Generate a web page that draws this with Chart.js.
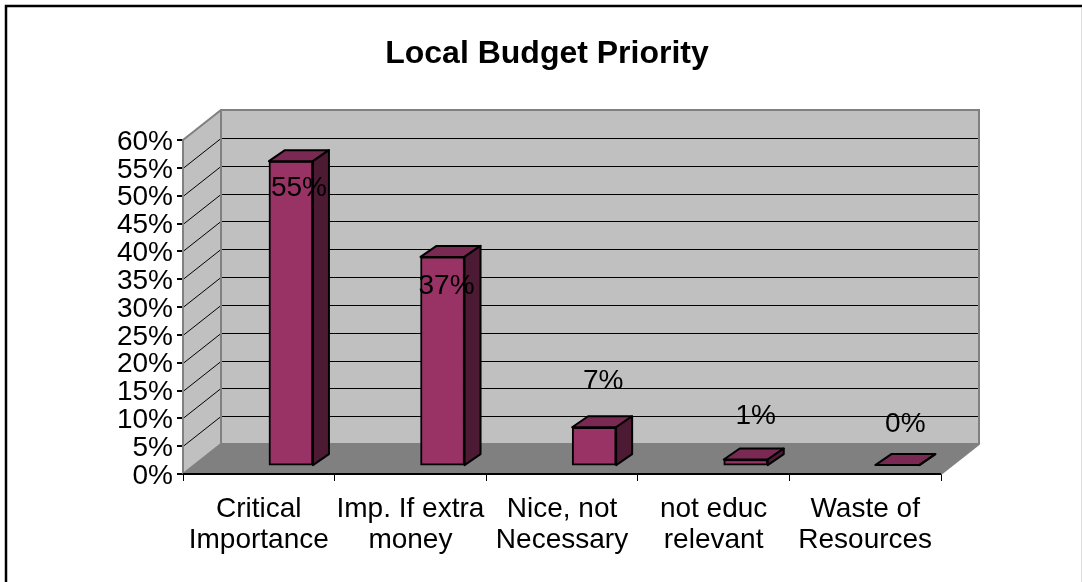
<!DOCTYPE html>
<html>
<head>
<meta charset="utf-8">
<style>
html, body { margin: 0; padding: 0; background: #fff; overflow: hidden; }
canvas { display: block; }
</style>
<script src="https://cdn.jsdelivr.net/npm/chart.js@4/dist/chart.umd.min.js"></script>
</head>
<body>
<canvas id="budget" width="1082" height="582"></canvas>
<script>
var chartTitle = "Local Budget Priority";
var categories = [
    ["Critical", "Importance"],
    ["Imp. If extra", "money"],
    ["Nice, not", "Necessary"],
    ["not educ", "relevant"],
    ["Waste of", "Resources"]
];
var positions = [0, 1, 2, 3, 4];
// bar heights, the labels round them
var budgetValues = [54.6, 37.4, 6.8, 1, 0];

var FONT = "'Liberation Sans', Arial, sans-serif";
// depth of the fake 3D box and of the bars
var WALL_DX = 38, WALL_DY = -30;
var BAR_DX = 16, BAR_DY = -11;
// where each value label sits relative to the top of its bar
var labelNudgeX = [8, 4, 9, 10, 8];
var labelNudgeY = [27, 29, -46, -43, -41];

function pct(v) { return Math.round(v) + "%"; }

// walls, floor and gridlines go under the bars, the frame goes round the page
var wallsPlugin = {
    id: "walls",
    beforeDatasetsDraw: function(chart) {
        var ctx = chart.ctx, y = chart.scales.y, area = chart.chartArea;
        var l = area.left, r = area.right, t = y.getPixelForValue(60), b = y.getPixelForValue(0);
        ctx.save();

        // back wall
        ctx.fillStyle = "#c0c0c0";
        ctx.fillRect(l + WALL_DX, t + WALL_DY, r - l, b - t);
        // side wall
        ctx.beginPath();
        ctx.moveTo(l, t); ctx.lineTo(l + WALL_DX, t + WALL_DY);
        ctx.lineTo(l + WALL_DX, b + WALL_DY); ctx.lineTo(l, b);
        ctx.closePath(); ctx.fill();
        // floor
        ctx.fillStyle = "#808080";
        ctx.beginPath();
        ctx.moveTo(l, b); ctx.lineTo(l + WALL_DX, b + WALL_DY);
        ctx.lineTo(r + WALL_DX, b + WALL_DY); ctx.lineTo(r, b);
        ctx.closePath(); ctx.fill();

        // gridlines
        ctx.strokeStyle = "#000";
        ctx.lineWidth = 1;
        y.ticks.forEach(function(tick) {
            if (tick.value === 0 || tick.value === 60) return;
            var p = Math.round(y.getPixelForValue(tick.value)) + 0.5;
            ctx.beginPath();
            ctx.moveTo(l, p);
            ctx.lineTo(l + WALL_DX, p + WALL_DY);
            ctx.lineTo(r + WALL_DX, p + WALL_DY);
            ctx.stroke();
        });

        // wall edges
        ctx.strokeStyle = "#808080";
        ctx.lineWidth = 2;
        ctx.beginPath();
        ctx.moveTo(l, b); ctx.lineTo(l, t); ctx.lineTo(l + WALL_DX, t + WALL_DY);
        ctx.lineTo(r + WALL_DX, t + WALL_DY); ctx.lineTo(r + WALL_DX, b + WALL_DY);
        ctx.lineTo(r, b);
        ctx.moveTo(l + WALL_DX, t + WALL_DY); ctx.lineTo(l + WALL_DX, b + WALL_DY);
        ctx.moveTo(l, b); ctx.lineTo(l + WALL_DX, b + WALL_DY);
        ctx.lineTo(r + WALL_DX, b + WALL_DY);
        ctx.stroke();

        // x axis line
        ctx.strokeStyle = "#000";
        ctx.lineWidth = 2;
        ctx.beginPath();
        ctx.moveTo(l, b); ctx.lineTo(r, b);
        ctx.stroke();
        ctx.restore();
    },
    afterDatasetsDraw: function(chart) {
        var ctx = chart.ctx;
        var bars = chart.getDatasetMeta(0).data;
        ctx.save();
        ctx.strokeStyle = "#000";
        ctx.lineWidth = 2;
        ctx.lineJoin = "round";
        bars.forEach(function(bar) {
            var p = bar.getProps(["x", "y", "base", "width"], true);
            var x0 = p.x - p.width / 2, x1 = p.x + p.width / 2;
            // top face
            ctx.fillStyle = "#7a2952";
            ctx.beginPath();
            ctx.moveTo(x0, p.y); ctx.lineTo(x0 + BAR_DX, p.y + BAR_DY);
            ctx.lineTo(x1 + BAR_DX, p.y + BAR_DY); ctx.lineTo(x1, p.y);
            ctx.closePath(); ctx.fill(); ctx.stroke();
            // side face
            ctx.fillStyle = "#4d1a33";
            ctx.beginPath();
            ctx.moveTo(x1, p.y); ctx.lineTo(x1 + BAR_DX, p.y + BAR_DY);
            ctx.lineTo(x1 + BAR_DX, p.base + BAR_DY); ctx.lineTo(x1, p.base);
            ctx.closePath(); ctx.fill(); ctx.stroke();
        });

        // value labels
        ctx.fillStyle = "#000";
        ctx.font = "28px " + FONT;
        ctx.textAlign = "center";
        ctx.textBaseline = "middle";
        bars.forEach(function(bar, i) {
            var p = bar.getProps(["x", "y"], true);
            ctx.fillText(pct(budgetValues[i]), p.x + labelNudgeX[i], p.y + labelNudgeY[i]);
        });
        ctx.restore();

        // page frame, the bottom side falls off the picture
        ctx.save();
        ctx.strokeStyle = "#000";
        ctx.lineWidth = 2.5;
        ctx.beginPath();
        ctx.moveTo(6, 582); ctx.lineTo(6, 6); ctx.lineTo(1082, 6);
        ctx.stroke();
        ctx.strokeStyle = "#ddd";
        ctx.lineWidth = 1;
        ctx.beginPath();
        ctx.moveTo(1081.5, 8); ctx.lineTo(1081.5, 582);
        ctx.stroke();
        ctx.restore();
    }
};

new Chart(document.getElementById("budget"), {
    type: "bar",
    plugins: [wallsPlugin],
    data: {
        labels: categories,
        datasets: [{
            label: chartTitle,
            data: budgetValues.map(function(v, i) { return { x: positions[i], y: v }; }),
            xAxisID: "xBar",
            yAxisID: "yBar",
            backgroundColor: "#993366",
            borderColor: "#000",
            borderWidth: 2,
            borderSkipped: false,
            barThickness: 44
        }]
    },
    options: {
        responsive: false,
        animation: false,
        events: [],
        layout: { padding: { left: 12, right: 0, top: 0, bottom: 0 } },
        plugins: {
            legend: { display: false },
            tooltip: { enabled: false },
            title: {
                display: true,
                text: chartTitle,
                color: "#000",
                font: { family: FONT, size: 32, weight: "bold" },
                padding: { top: 35, bottom: 66.6 }
            }
        },
        scales: {
            x: {
                type: "category",
                offset: true,
                grid: { offset: true, drawOnChartArea: false, drawTicks: true, tickLength: 7, color: "#000", lineWidth: 1 },
                border: { display: false },
                ticks: {
                    color: "#000",
                    font: { family: FONT, size: 28, lineHeight: 1.1 },
                    maxRotation: 0,
                    autoSkip: false,
                    padding: 13
                },
                afterFit: function(scale) { scale.height = 108; }
            },
            y: {
                min: 0,
                max: 60,
                grid: { drawOnChartArea: false, drawTicks: true, tickLength: 6, color: "#000", lineWidth: 2 },
                border: { display: false },
                ticks: {
                    stepSize: 5,
                    autoSkip: false,
                    color: "#000",
                    font: { family: FONT, size: 28 },
                    padding: 4,
                    labelOffset: 2,
                    callback: pct
                },
                afterFit: function(scale) { scale.width = 171; }
            },
            // the bars stand a little way into the box, so they get their own scales
            xBar: {
                type: "linear",
                display: false,
                offset: false,
                min: -0.712,
                max: 4.288
            },
            yBar: {
                type: "linear",
                position: "right",
                min: -1.6,
                max: 58.4,
                grid: { display: false },
                border: { display: false },
                ticks: { display: false },
                afterFit: function(scale) { scale.width = 141; }
            }
        }
    }
});
</script>
</body>
</html>
